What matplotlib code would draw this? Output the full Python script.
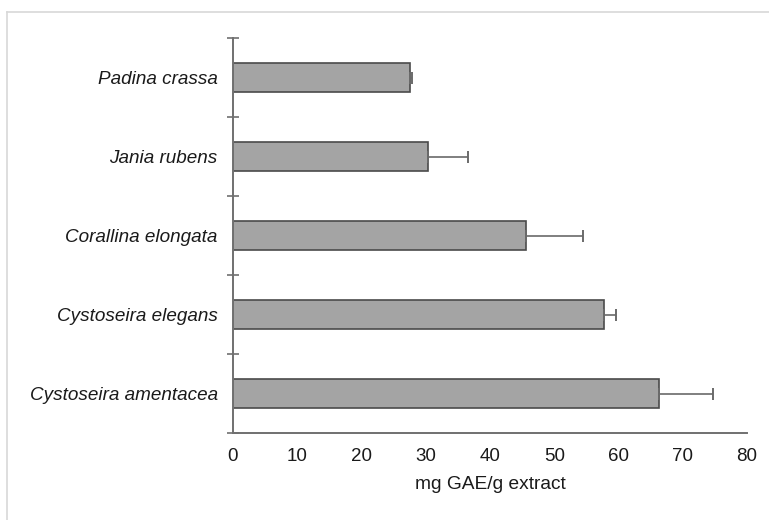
"""Total phenolic content of seaweed extracts, horizontal bar chart."""

import matplotlib
matplotlib.use("Agg")
import matplotlib.pyplot as plt
from matplotlib.lines import Line2D

plt.rcParams["font.family"] = ["Liberation Sans", "DejaVu Sans"]

# Bottom to top, as drawn
species = [
    "Cystoseira amentacea",
    "Cystoseira elegans",
    "Corallina elongata",
    "Jania rubens",
    "Padina crassa",
]
gae = [66.3, 57.7, 45.6, 30.4, 27.6]
gae_err = [8.4, 1.9, 8.9, 6.2, 0.3]
x_ticks = [0, 10, 20, 30, 40, 50, 60, 70, 80]

W, H = 769, 520
fig = plt.figure(figsize=(W / 100, H / 100), dpi=100)
ax = fig.add_axes([233 / W, 1 - 433 / H, (747 - 233) / W, (433 - 38) / H])

ypos = [i + 0.5 for i in range(len(species))]
ax.barh(ypos, gae, height=0.36, color="#a4a4a4", edgecolor="#4a4a4a",
        linewidth=1.2, zorder=2)
ax.errorbar(gae, ypos, xerr=[[0] * len(gae_err), gae_err], fmt="none",
            ecolor="#6a6a6a", elinewidth=1.2, capsize=4, capthick=1.4, zorder=3)

ax.set_xlim(0, 80)
ax.set_ylim(0, len(species))
ax.set_xticks(x_ticks)
ax.set_yticks(ypos)
ax.set_yticklabels(species, fontstyle="italic", fontsize=13.6)
ax.set_yticks(range(len(species) + 1), minor=True)
ax.tick_params(axis="y", which="major", length=0, pad=11, colors="#1a1a1a")
ax.tick_params(axis="y", which="minor", direction="inout", length=8,
               width=1.2, color="#707070")
ax.tick_params(axis="x", length=0, pad=11, labelsize=13.5, colors="#1a1a1a")
ax.set_xlabel("mg GAE/g extract", fontsize=13.8, color="#1a1a1a", labelpad=8)

for side in ("top", "right"):
    ax.spines[side].set_visible(False)
for side in ("left", "bottom"):
    ax.spines[side].set_color("#707070")
    ax.spines[side].set_linewidth(1.4)

# light frame round the chart area
fig.add_artist(Line2D([7 / W, 7 / W], [0, 1 - 12 / H], transform=fig.transFigure,
                      color="#d8d8d8", linewidth=1.2))
fig.add_artist(Line2D([7 / W, 1], [1 - 12 / H, 1 - 12 / H], transform=fig.transFigure,
                      color="#d8d8d8", linewidth=1.2))

fig.savefig("out.png", dpi=100)
